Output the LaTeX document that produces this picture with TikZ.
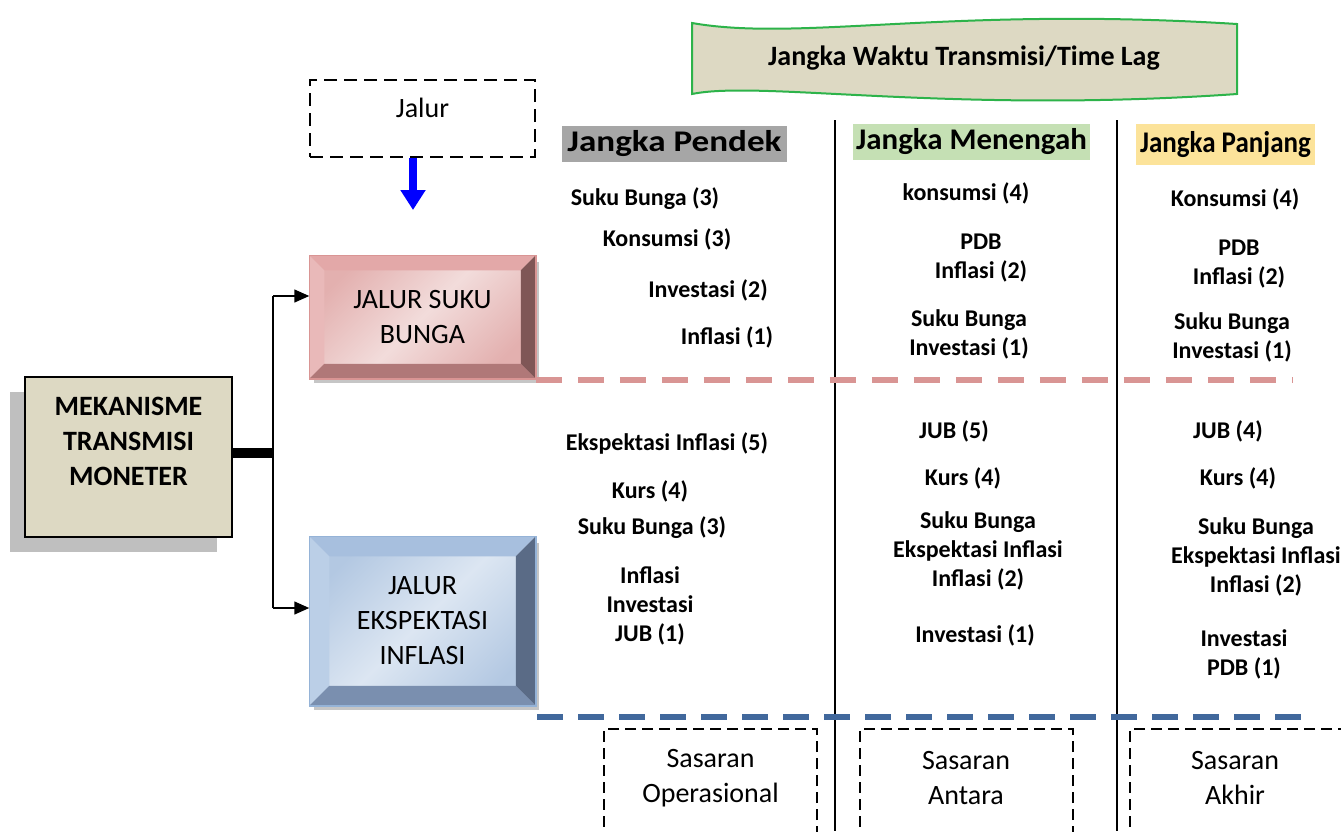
\documentclass[tikz,border=0pt]{standalone}
\usepackage{fontspec}
\setmainfont{Carlito}
\usepackage{graphicx}
\usetikzlibrary{arrows.meta,positioning,calc}
\definecolor{mtTan}{HTML}{DDD9C3}
\definecolor{mtShadow}{HTML}{BFBFBF}
\definecolor{mtWave}{HTML}{2DB34A}
\definecolor{mtPink}{HTML}{D99594}
\definecolor{mtPinkLight}{HTML}{F2DCDB}
\definecolor{mtPinkMid}{HTML}{E3B0AF}
\definecolor{mtPinkTop}{HTML}{E3A8A8}
\definecolor{mtPinkLeft}{HTML}{E9B9B9}
\definecolor{mtPinkRight}{HTML}{7F5656}
\definecolor{mtPinkBottom}{HTML}{B07878}
\definecolor{mtBlue}{HTML}{95B3D7}
\definecolor{mtBlueLight}{HTML}{DCE6F2}
\definecolor{mtBlueMid}{HTML}{B3C8E2}
\definecolor{mtBlueTop}{HTML}{A7BFDE}
\definecolor{mtBlueLeft}{HTML}{BBCFE7}
\definecolor{mtBlueRight}{HTML}{5A6B86}
\definecolor{mtBlueBottom}{HTML}{7A8FAF}
\definecolor{mtBlueDash}{HTML}{41689C}
\definecolor{mtGrayHead}{HTML}{A6A6A6}
\definecolor{mtGreenHead}{HTML}{C5E0B4}
\definecolor{mtYellowHead}{HTML}{FCE39A}
\tikzset{
    every picture/.style={x=1pt, y=-1pt, >=stealth},
    % text styles
    lbl/.style={font=\fontsize{24}{29}\selectfont\bfseries, align=center, inner sep=0pt},
    regtxt/.style={font=\fontsize{28}{35}\selectfont, align=center, inner sep=0pt},
    heading/.style={font=\fontsize{30}{36}\selectfont\bfseries, inner sep=0pt},
    % box styles
    dashbox/.style={draw=black, line width=2pt, dash pattern=on 11pt off 6pt},
    mekbox/.style={draw=black, line width=2pt, fill=mtTan, minimum width=207pt, minimum height=160pt},
    pinkbox/.style={draw=mtPink, line width=1.5pt, minimum width=225pt, minimum height=122pt,
        top color=mtPinkMid, bottom color=mtPinkMid, middle color=mtPinkLight, shading angle=45,
        font=\fontsize{28}{35}\selectfont, align=center},
    bluebox/.style={draw=mtBlue, line width=1.5pt, minimum width=225pt, minimum height=168pt,
        top color=mtBlueMid, bottom color=mtBlueMid, middle color=mtBlueLight, shading angle=45,
        font=\fontsize{28}{35}\selectfont, align=center},
    wave/.style={draw=mtWave, line width=2pt, fill=mtTan},
    % line styles
    sepline/.style={draw=black, line width=2pt},
    branch/.style={-{Triangle[length=15pt,width=13pt]}, line width=1.5pt}
}
% bevel frame: node, depth, top, left, right, bottom
\newcommand{\bevelframe}[6]{%
    \fill[#3] (#1.north west) -- (#1.north east) -- ($(#1.north east)+(-#2,#2)$) -- ($(#1.north west)+(#2,#2)$) -- cycle;
    \fill[#4] (#1.north west) -- (#1.south west) -- ($(#1.south west)+(#2,-#2)$) -- ($(#1.north west)+(#2,#2)$) -- cycle;
    \fill[#5] (#1.north east) -- (#1.south east) -- ($(#1.south east)+(-#2,-#2)$) -- ($(#1.north east)+(-#2,#2)$) -- cycle;
    \fill[#6] (#1.south west) -- (#1.south east) -- ($(#1.south east)+(-#2,-#2)$) -- ($(#1.south west)+(#2,-#2)$) -- cycle;
}

\begin{document}
\begin{tikzpicture}
    \useasboundingbox (0,0) rectangle (1341,831);
    \clip (0,0) rectangle (1341,831);

    % Time lag banner
    \draw[wave] (692,23) .. controls (800,42) and (950,6) .. (1237,24) -- (1237,94) .. controls (950,114) and (760,80) .. (692,94) -- cycle;
    \node[font=\fontsize{28}{34}\selectfont\bfseries] (banner) at (964,58) {Jangka Waktu Transmisi/Time Lag};

    % Jalur label
    \node[dashbox, dash pattern=on 13pt off 7pt, minimum width=225pt, inner ysep=0pt, text height=37pt, text depth=40pt, font=\fontsize{28}{35}\selectfont] (jalur) at (422.5,118.5) {Jalur};
    \coordinate (jalurTip) at (413,210);
    \draw[blue, line width=8pt, -{Triangle[length=20pt,width=24pt]}] (jalurTip |- jalur.south) -- (jalurTip);

    % Main mechanism box
    \fill[mtShadow] (10,392) rectangle (217,552);
    \node[mekbox] (mek) at (128.5,457) {};
    \node[regtxt, font=\fontsize{28}{35}\selectfont\bfseries] (mektxt) at (128.5,441) {MEKANISME\\TRANSMISI\\MONETER};

    % Interest rate channel
    \fill[gray!45] (314,262) rectangle (539,383);
    \node[pinkbox] (jsb) at (422.5,317) {JALUR SUKU\\BUNGA};
    \bevelframe{jsb}{15}{mtPinkTop}{mtPinkLeft}{mtPinkRight}{mtPinkBottom}
    \draw[mtPink, line width=1.5pt] (jsb.north west) rectangle (jsb.south east);

    % Inflation expectation channel
    \fill[gray!45] (314,543) rectangle (539,710);
    \node[bluebox] (jei) at (422.5,621) {JALUR\\EKSPEKTASI\\INFLASI};
    \bevelframe{jei}{20}{mtBlueTop}{mtBlueLeft}{mtBlueRight}{mtBlueBottom}
    \draw[mtBlue, line width=1.5pt] (jei.north west) rectangle (jei.south east);

    % Branch connectors
    \coordinate (fork) at (273,453);
    \coordinate (forkTop) at (273,296);
    \coordinate (forkBot) at (273,608);
    \draw[line width=10pt] (mek.east |- fork) -- (fork);
    \draw[line width=1.5pt] (forkTop) -- (forkBot);
    \draw[branch] (forkTop) -- (forkTop -| jsb.west);
    \draw[branch] (forkBot) -- (forkBot -| jei.west);

    % Column headings
    \node[heading, fill=mtGrayHead, minimum width=225pt, minimum height=36pt] (hPendek) at (674.5,144) {\scalebox{1.17}[1]{Jangka Pendek}};
    \node[heading, fill=mtGreenHead, minimum width=237pt, minimum height=36pt] (hMenengah) at (971.5,142) {\scalebox{1.03}[1]{Jangka Menengah}};
    \node[heading, fill=mtYellowHead, minimum width=179pt, minimum height=41pt] (hPanjang) at (1225.5,144.5) {\scalebox{0.9}[1]{Jangka Panjang}};

    % Column separators
    \draw[sepline] (835,120) -- (835,831);
    \draw[sepline] (1117,120) -- (1117,831);

    % Channel separators
    \coordinate (pinkEnd) at (1293,380);
    \draw[mtPink, line width=6pt, dash pattern=on 26pt off 16pt] (jsb.south east |- pinkEnd) -- (pinkEnd);
    \coordinate (blueStart) at (537,717);
    \coordinate (blueEnd) at (1302,717);
    \draw[mtBlueDash, line width=6pt, dash pattern=on 26pt off 15pt] (blueStart) -- (blueEnd);

    % Short term, interest rate
    \node[lbl] (pS1) at (645,199) {Suku Bunga (3)};
    \node[lbl] (pS2) at (667,239) {Konsumsi (3)};
    \node[lbl] (pS3) at (708,290) {Investasi (2)};
    \node[lbl] (pS4) at (727,337) {Inflasi (1)};
    % Medium term, interest rate
    \node[lbl] (mS1) at (966,193) {konsumsi (4)};
    \node[lbl] (mS2) at (981,258) {PDB\\Inflasi (2)};
    \node[lbl] (mS3) at (969,334) {Suku Bunga\\Investasi (1)};
    % Long term, interest rate
    \node[lbl] (lS1) at (1235,199) {Konsumsi (4)};
    \node[lbl] (lS2) at (1239,264) {PDB\\Inflasi (2)};
    \node[lbl] (lS3) at (1232,337) {Suku Bunga\\Investasi (1)};

    % Short term, expectations
    \node[lbl] (pE1) at (667,443) {Ekspektasi Inflasi (5)};
    \node[lbl] (pE2) at (650,491) {Kurs (4)};
    \node[lbl] (pE3) at (652,528) {Suku Bunga (3)};
    \node[lbl] (pE4) at (650,606) {Inflasi\\Investasi\\JUB (1)};
    % Medium term, expectations
    \node[lbl] (mE1) at (954,431) {JUB (5)};
    \node[lbl] (mE2) at (963,478) {Kurs (4)};
    \node[lbl] (mE3) at (978,551) {Suku Bunga\\Ekspektasi Inflasi\\Inflasi (2)};
    \node[lbl] (mE4) at (975,635) {Investasi (1)};
    % Long term, expectations
    \node[lbl] (lE1) at (1228,431) {JUB (4)};
    \node[lbl] (lE2) at (1238,478) {Kurs (4)};
    \node[lbl] (lE3) at (1256,557) {Suku Bunga\\Ekspektasi Inflasi\\Inflasi (2)};
    \node[lbl] (lE4) at (1244,654) {Investasi\\PDB (1)};

    % Targets
    \node[dashbox, minimum width=213pt, minimum height=150pt] (sOp) at (710.5,804) {};
    \node[regtxt] (sOpTxt) at (710.5,778) {Sasaran\\Operasional};
    \node[dashbox, minimum width=213pt, minimum height=150pt] (sAn) at (966,804) {};
    \node[regtxt] (sAnTxt) at (966,778) {Sasaran\\Antara};
    \node[dashbox, minimum width=213pt, minimum height=150pt] (sAk) at (1236.5,804) {};
    \node[regtxt] (sAkTxt) at (1235,778) {Sasaran\\Akhir};
\end{tikzpicture}
\end{document}
